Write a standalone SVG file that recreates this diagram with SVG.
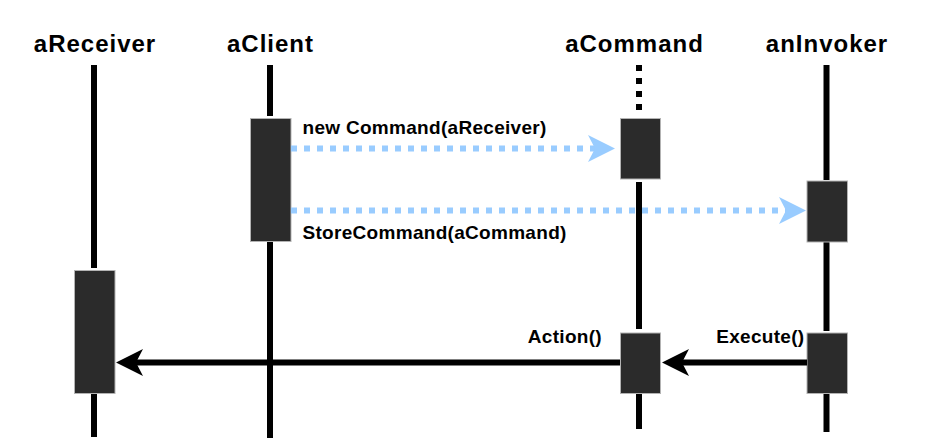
<svg xmlns="http://www.w3.org/2000/svg" width="931" height="448" viewBox="0 0 931 448">
  <style>
    .title { font-family: "Liberation Sans", Arial, sans-serif; font-weight: bold; font-size: 24px; letter-spacing: 1px; fill: #000; text-anchor: middle; }
    .lbl { font-family: "Liberation Sans", Arial, sans-serif; font-weight: bold; font-size: 19px; letter-spacing: 0.3px; fill: #000; }
    .life { stroke: #000; stroke-width: 6; fill: none; }
    .dotted { stroke-dasharray: 6 7; }
    .act { fill: #2b2b2b; stroke: #b3b3b3; stroke-width: 1; }
    .msg-blue { stroke: #99ccff; stroke-width: 6; stroke-dasharray: 6 7; fill: none; }
    .msg-black { stroke: #000; stroke-width: 6; fill: none; }
  </style>
  <defs>
    <marker id="headBlue" viewBox="0 0 27 27" refX="7" refY="13.5" markerWidth="27" markerHeight="27" markerUnits="userSpaceOnUse" orient="auto">
      <path d="M0,0 L27,13.5 L0,27 L7,13.5 Z" fill="#99ccff"/>
    </marker>
    <marker id="headBlack" viewBox="0 0 27 27" refX="7" refY="13.5" markerWidth="27" markerHeight="27" markerUnits="userSpaceOnUse" orient="auto">
      <path d="M0,0 L27,13.5 L0,27 L7,13.5 Z" fill="#000"/>
    </marker>
  </defs>
  <rect width="931" height="448" fill="#fff"/>

  <g id="aReceiver">
    <text class="title" x="95" y="52">aReceiver</text>
    <line class="life" x1="94" y1="65" x2="94" y2="268"/>
    <line class="life" x1="94" y1="394" x2="94" y2="437"/>
    <rect class="act" x="74.5" y="270.5" width="40.5" height="123"/>
  </g>

  <g id="aClient">
    <text class="title" x="270.5" y="52">aClient</text>
    <line class="life" x1="270" y1="65" x2="270" y2="116"/>
    <line class="life" x1="270" y1="241" x2="270" y2="438"/>
    <rect class="act" x="250.5" y="118.5" width="40.5" height="123"/>
  </g>

  <g id="aCommand">
    <text class="title" x="634.5" y="52">aCommand</text>
    <line class="life dotted" x1="639" y1="65" x2="639" y2="111"/>
    <line class="life" x1="639" y1="182" x2="639" y2="329"/>
    <line class="life" x1="639" y1="392" x2="639" y2="429"/>
    <rect class="act" x="620.5" y="118.5" width="40" height="60.5"/>
    <rect class="act" x="620.5" y="333" width="40" height="60.5"/>
  </g>

  <g id="anInvoker">
    <text class="title" x="827" y="52">anInvoker</text>
    <line class="life" x1="826.5" y1="65" x2="826.5" y2="180"/>
    <line class="life" x1="826.5" y1="242" x2="826.5" y2="331"/>
    <line class="life" x1="826.5" y1="393" x2="826.5" y2="432"/>
    <rect class="act" x="807" y="181" width="40.5" height="61"/>
    <rect class="act" x="807" y="333" width="40.5" height="60.5"/>
  </g>

  <g id="connectors">
    <line class="msg-blue" x1="291" y1="148.5" x2="595" y2="148.5" marker-end="url(#headBlue)"/>
    <line class="msg-blue" x1="291" y1="210.5" x2="786" y2="210.5" marker-end="url(#headBlue)"/>
    <line class="msg-black" x1="620" y1="362.5" x2="136" y2="362.5" marker-end="url(#headBlack)"/>
    <line class="msg-black" x1="807" y1="362.5" x2="682" y2="362.5" marker-end="url(#headBlack)"/>
    <text class="lbl" x="302.5" y="134">new Command(aReceiver)</text>
    <text class="lbl" x="302.5" y="238.5">StoreCommand(aCommand)</text>
    <text class="lbl" x="602" y="343" text-anchor="end">Action()</text>
    <text class="lbl" x="804.5" y="343" text-anchor="end">Execute()</text>
  </g>
</svg>
